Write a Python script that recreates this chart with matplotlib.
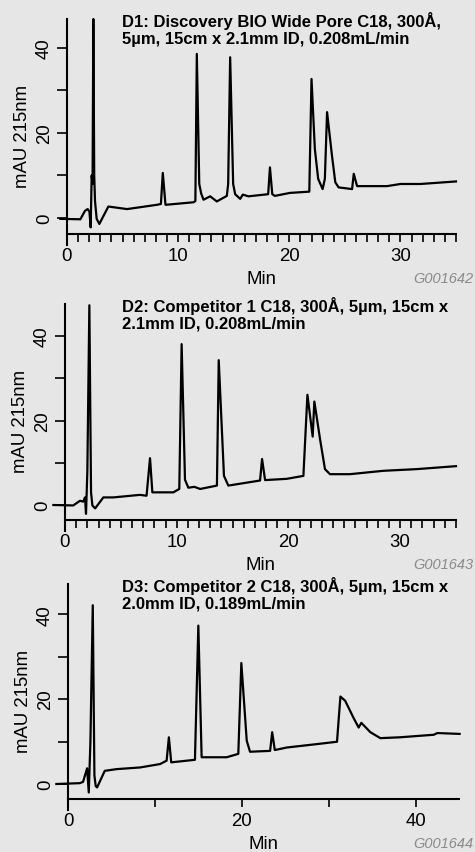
import matplotlib
matplotlib.use('Agg')
import matplotlib.pyplot as plt
from matplotlib.ticker import MultipleLocator, FixedLocator

# D1: Discovery BIO Wide Pore C18
t1 = [-0.6, 1.2, 1.62, 1.86, 2.02, 2.13, 2.22, 2.3, 2.37, 2.45, 2.52, 2.67, 2.91, 3.72, 5.4,
      8.08, 8.45, 8.62, 8.86, 11.38, 11.55, 11.68, 11.9, 12.07, 12.28, 12.88, 13.48, 14.38,
      14.5, 14.68, 14.95, 15.13, 15.58, 15.82, 16.33, 18.1, 18.26, 18.47, 18.7, 20.05, 21.8,
      22.0, 22.3, 22.6, 23.0, 23.2, 23.4, 23.84, 24.14, 24.44, 25.65, 25.8, 26.1, 28.8, 30.0,
      31.8, 35.0]
y1 = [-0.2, -0.3, 1.7, 2.1, 1.5, -2.2, 10.0, 8.0, 46.8, 10.0, 4.0, -0.2, -1.4, 2.7, 2.1,
      3.1, 3.3, 10.6, 3.1, 3.7, 4.0, 38.6, 8.0, 5.8, 4.3, 5.1, 3.9, 5.2,
      8.0, 37.8, 8.0, 5.6, 4.5, 5.5, 5.1, 5.6, 11.9, 5.6, 5.2, 5.9, 6.2,
      32.7, 16.2, 9.2, 6.8, 9.2, 24.9, 14.7, 8.4, 7.2, 6.8, 10.4, 7.5, 7.5, 8.0,
      8.0, 8.6]

# D2: Competitor 1 C18
t2 = [-1.04, 0.74, 1.34, 1.64, 1.79, 1.88, 2.0, 2.18, 2.33, 2.45, 2.7, 3.43, 4.33, 6.7,
      7.3, 7.61, 7.82, 9.7, 10.23, 10.44, 10.74, 11.04, 11.58, 12.1, 13.6, 13.76, 14.23,
      14.62, 17.46, 17.64, 17.91, 19.85, 21.34, 21.7, 22.17, 22.32, 22.83, 23.27, 23.72,
      25.5, 28.5, 31.5, 35.0]
y2 = [0.0, -0.1, 1.0, 0.8, 1.8, -2.1, 7.9, 47.3, 3.0, -0.1, -0.8, 1.8, 1.8, 2.4,
      2.2, 11.1, 3.0, 3.0, 3.8, 38.1, 6.0, 4.1, 4.3, 3.8, 4.6, 34.3, 6.9,
      4.6, 5.8, 10.9, 5.9, 6.2, 6.9, 26.1, 16.2, 24.5, 15.6, 8.5, 7.3,
      7.3, 8.1, 8.5, 9.2]

# D3: Competitor 2 C18
t3 = [-1.34, 1.35, 1.73, 2.2, 2.39, 2.58, 2.85, 3.04, 3.19, 3.35, 4.23, 5.57, 8.3, 10.6,
      11.35, 11.61, 11.88, 14.61, 15.0, 15.38, 18.26, 19.6, 19.95, 20.57, 20.95, 23.26,
      23.5, 23.8, 25.2, 28.65, 30.96, 31.35, 31.9, 32.88, 33.45, 33.76, 34.8, 35.95, 38.2,
      42.1, 42.5, 45.07]
y3 = [0.0, 0.2, 0.5, 3.7, -2.0, 10.0, 42.1, 2.0, -0.5, -0.8, 3.1, 3.5, 3.9, 4.7,
      5.5, 11.0, 5.1, 5.7, 37.3, 6.3, 6.3, 7.1, 28.5, 10.2, 7.6, 7.8,
      12.2, 8.0, 8.6, 9.4, 9.95, 20.6, 19.6, 15.5, 13.3, 14.4, 12.2, 10.8, 11.0,
      11.6, 12.0, 11.8]

titles = ['D1: Discovery BIO Wide Pore C18, 300Å,\n5µm, 15cm x 2.1mm ID, 0.208mL/min',
          'D2: Competitor 1 C18, 300Å, 5µm, 15cm x\n2.1mm ID, 0.208mL/min',
          'D3: Competitor 2 C18, 300Å, 5µm, 15cm x\n2.0mm ID, 0.189mL/min']
codes = ['G001642', 'G001643', 'G001644']
xmax = [35, 35, 45]
ylims = [(-3.76, 46.8), (-3.55, 47.6), (-3.53, 47.1)]
yticks = [0, 20, 40]

bg = '#e6e6e6'
plt.rcParams['font.family'] = ['Liberation Sans', 'DejaVu Sans']

fig = plt.figure(figsize=(4.75, 8.53), dpi=100, facecolor=bg)

# cajas de los ejes en pixeles: izquierda, derecha, arriba, abajo
boxes = [(67, 456, 20, 235), (65, 456, 305, 521), (68, 459, 585, 800)]
W, H = 475.0, 853.0

datos = [(t1, y1), (t2, y2), (t3, y3)]
for i in range(3):
    l, r, top, b = boxes[i]
    ax = fig.add_axes([l / W, 1 - b / H, (r - l) / W, (b - top) / H])
    ax.set_facecolor(bg)
    t, y = datos[i]
    ax.plot(t, y, color='black', lw=1.6, clip_on=False, solid_joinstyle='round')
    ax.set_xlim(0, xmax[i])
    ax.set_ylim(*ylims[i])

    for s in ['top', 'right']:
        ax.spines[s].set_visible(False)
    for s in ['left', 'bottom']:
        ax.spines[s].set_linewidth(1.5)
    # el eje y baja un poco por debajo del eje x
    ax.spines['left'].set_bounds(ylims[i][0] - 2.6, ylims[i][1])

    if xmax[i] == 45:
        ax.xaxis.set_major_locator(FixedLocator([0, 20, 40]))
        ax.xaxis.set_minor_locator(FixedLocator([10, 30]))
    else:
        ax.xaxis.set_major_locator(FixedLocator([0, 10, 20, 30]))
        ax.xaxis.set_minor_locator(MultipleLocator(1))
    ax.yaxis.set_major_locator(FixedLocator(yticks))
    ax.yaxis.set_minor_locator(FixedLocator([10, 30]))

    ax.tick_params(axis='x', which='both', direction='out', length=5.5, width=1.2,
                   labelsize=13.4, pad=4)
    ax.tick_params(axis='y', which='both', direction='out', length=7, width=1.2,
                   labelsize=13.4, pad=3, labelrotation=90)
    for lab in ax.get_yticklabels():
        lab.set_va('center')

    ax.set_xlabel('Min', fontsize=13.4, labelpad=4)
    ax.set_ylabel('mAU 215nm', fontsize=13.4, va='center')
    ax.yaxis.set_label_coords(-44 / (r - l), 0.46)

    ax.text((122 - l) / (r - l), 1 + 8 / (b - top), titles[i], transform=ax.transAxes,
            ha='left', va='top', fontsize=12, fontweight='bold', linespacing=1.15)

    fig.text(473 / W, 1 - (b + 48) / H, codes[i], ha='right', va='baseline',
             fontsize=10.5, style='italic', color='#8a8a8a')

fig.savefig('out.png', dpi=100, facecolor=bg)
